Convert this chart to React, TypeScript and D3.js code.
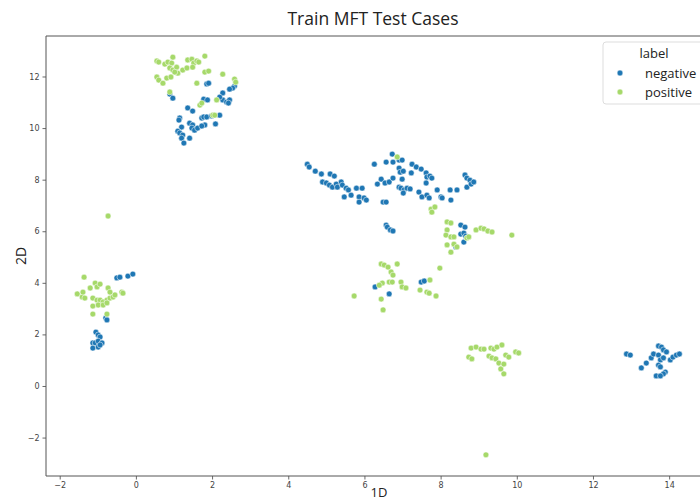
import React, { useRef, useEffect } from "react";
import * as d3 from "d3";

// Points, [1D, 2D]
const negative: [number, number][] = [
  // upper left group
  [0.89, 11.32], [0.97, 11.16], [1.86, 11.71], [1.91, 11.74], [2.59, 11.63], [2.54, 11.55],
  [2.46, 11.51], [2.28, 11.36], [2.28, 11.09], [2.38, 11.01], [2.46, 11.09], [2.43, 10.97],
  [1.78, 11.12], [1.88, 11.09], [1.36, 10.78], [1.49, 10.66], [1.15, 10.39], [1.13, 10.31],
  [1.2, 10.04], [1.1, 9.88], [1.15, 9.81], [1.23, 9.73], [1.2, 9.61], [1.26, 9.42],
  [1.41, 9.61], [1.41, 10.19], [1.49, 10.12], [1.47, 10.0], [1.54, 9.92], [1.62, 10.0],
  [1.73, 10.39], [1.78, 10.43], [1.86, 10.43], [1.81, 10.12], [1.73, 10.08], [1.99, 10.47],
  [2.2, 10.5], [2.09, 10.16], [2.2, 11.2],
  // middle band
  [4.5, 8.6], [4.55, 8.49], [4.71, 8.33], [4.87, 8.22], [5.1, 8.22], [5.21, 8.14],
  [4.9, 7.91], [5.0, 7.87], [5.08, 7.79], [5.16, 7.71], [5.26, 7.83], [5.29, 7.71],
  [5.39, 7.91], [5.42, 7.79], [5.52, 7.67], [5.58, 7.6], [5.47, 7.33], [5.65, 7.4],
  [5.79, 7.67], [5.94, 7.67], [5.86, 7.33], [5.99, 7.29], [5.86, 7.13], [6.05, 7.21],
  [6.26, 8.6], [6.34, 7.83], [6.44, 8.02], [6.54, 7.87], [6.65, 7.91], [6.75, 8.06],
  [6.57, 8.68], [6.73, 8.99], [6.75, 8.68], [6.91, 8.76], [6.99, 8.76], [6.91, 8.45],
  [6.94, 8.29], [7.02, 8.33], [6.99, 8.02], [6.91, 7.71], [6.96, 7.67], [7.04, 7.6],
  [7.02, 7.48], [7.12, 7.67], [7.2, 7.64], [7.23, 8.26], [7.25, 8.6], [7.36, 8.49],
  [7.49, 8.41], [7.62, 8.26], [7.64, 8.1], [7.72, 8.14], [7.77, 8.06], [7.62, 7.87],
  [7.43, 7.52], [7.51, 7.33], [7.64, 7.4], [7.7, 7.29], [7.91, 7.6], [8.01, 7.33],
  [8.04, 7.29], [8.25, 7.6], [8.43, 7.6], [8.27, 7.21], [8.64, 8.18], [8.69, 8.06],
  [8.77, 7.98], [8.69, 7.71], [8.8, 7.83], [8.87, 7.91], [6.49, 7.13], [6.57, 7.13],
  [6.57, 6.24], [6.6, 6.16], [6.68, 6.05], [6.75, 6.01],
  // mixed group near (8.5, 6)
  [8.53, 6.24], [8.64, 6.16], [8.53, 5.89], [8.61, 5.93], [8.66, 5.81], [8.61, 5.58], [8.4, 5.39],
  // lower middle
  [6.28, 3.84], [6.65, 3.57], [7.49, 4.03], [7.57, 4.07],
  // right group
  [12.88, 1.24], [12.98, 1.2], [13.27, 0.7], [13.4, 0.89], [13.53, 1.09], [13.59, 1.24],
  [13.72, 1.55], [13.8, 1.51], [13.85, 1.4], [13.93, 1.32], [13.72, 1.2], [13.77, 1.01],
  [13.85, 1.09], [13.72, 0.81], [13.77, 0.74], [13.9, 0.54], [13.85, 0.47], [13.66, 0.39],
  [13.77, 0.39], [14.03, 1.01], [14.1, 1.12], [14.19, 1.2], [14.27, 1.24],
  // left group
  [-0.5, 4.19], [-0.42, 4.22], [-0.21, 4.26], [-0.08, 4.34], [-0.79, 2.64], [-0.76, 2.56],
  [-1.05, 2.09], [-0.99, 1.98], [-0.94, 1.9], [-1.13, 1.67], [-1.07, 1.67], [-0.99, 1.74],
  [-0.89, 1.67], [-1.13, 1.47], [-0.99, 1.51], [-0.94, 1.59],
];

const positive: [number, number][] = [
  // upper left group
  [0.55, 12.6], [0.6, 12.56], [0.76, 12.48], [0.84, 12.56], [0.97, 12.75], [0.94, 12.52],
  [0.89, 12.33], [0.97, 12.25], [1.07, 12.36], [1.1, 12.13], [1.23, 12.25], [1.34, 12.33],
  [1.36, 12.64], [1.47, 12.67], [1.52, 12.52], [1.6, 12.6], [1.65, 12.56], [1.81, 12.79],
  [1.49, 12.36], [1.81, 12.17], [1.91, 12.21], [0.55, 11.98], [0.6, 11.86], [0.71, 11.74],
  [0.81, 11.94], [0.92, 11.98], [1.02, 12.17], [1.6, 11.74], [2.28, 12.09], [2.59, 11.9],
  [2.62, 11.78], [0.89, 11.4], [1.68, 10.89], [1.73, 10.97], [2.12, 11.09], [2.02, 10.5],
  [2.07, 10.5],
  // middle band
  [6.86, 8.88], [7.75, 6.86], [7.77, 6.74], [7.85, 6.94],
  // mixed group near (8.5, 6)
  [8.17, 6.36], [8.27, 6.32], [8.17, 6.05], [8.14, 5.85], [8.27, 5.78], [8.35, 5.78],
  [8.69, 5.74], [8.74, 5.78], [8.93, 6.05], [9.06, 6.12], [9.14, 6.09], [9.24, 6.01],
  [9.35, 5.97], [9.87, 5.85], [8.17, 5.47], [8.35, 5.5], [8.43, 5.39], [8.27, 5.19],
  // lower middle
  [6.44, 4.73], [6.52, 4.69], [6.62, 4.61], [6.86, 4.73], [6.7, 4.42], [6.75, 4.3],
  [6.47, 3.99], [6.65, 4.03], [6.73, 4.03], [6.96, 4.03], [6.99, 3.84], [7.09, 3.8],
  [6.44, 3.37], [6.49, 2.95], [7.72, 4.11], [7.46, 3.72], [7.64, 3.64], [7.7, 3.6],
  [7.88, 3.49], [7.98, 4.57], [5.73, 3.49], [6.39, 3.91],
  // bottom middle
  [8.8, 1.47], [8.93, 1.51], [9.06, 1.43], [9.14, 1.43], [9.32, 1.47], [9.4, 1.43],
  [9.48, 1.51], [9.61, 1.59], [8.74, 1.12], [8.82, 1.05], [9.27, 1.16], [9.35, 1.09],
  [9.45, 1.05], [9.53, 0.89], [9.66, 0.85], [9.71, 1.2], [9.79, 1.12], [9.97, 1.32],
  [10.05, 1.28], [9.58, 0.66], [9.66, 0.47], [9.19, -2.67],
  // left group
  [-1.36, 4.22], [-1.54, 3.57], [-1.41, 3.45], [-1.34, 3.41], [-1.39, 3.64], [-1.2, 3.8],
  [-1.07, 3.99], [-1.02, 3.84], [-0.94, 3.95], [-1.13, 3.41], [-1.02, 3.33], [-0.94, 3.33],
  [-0.86, 3.26], [-0.76, 3.33], [-0.68, 3.41], [-0.6, 3.45], [-0.55, 3.53], [-0.73, 3.8],
  [-0.68, 3.64], [-0.37, 3.64], [-0.34, 3.6], [-1.13, 3.1], [-0.99, 3.14], [-0.86, 3.14],
  [-0.76, 3.22], [-1.13, 2.79], [-0.76, 2.79], [-0.73, 6.59],
];

const labels = ["negative", "positive"];
const colors = ["#1f77b4", "#a6d96a"];
const xTicks = [-2, 0, 2, 4, 6, 8, 10, 12, 14];
const yTicks = [-2, 0, 2, 4, 6, 8, 10, 12];

const App = () => {
  const svgRef = useRef<SVGSVGElement>(null);

  useEffect(() => {
    const width = 700;
    const height = 503;
    const margin = { top: 36, right: -8, bottom: 27, left: 46 };
    const plotRight = width - margin.right;

    const svg = d3.select(svgRef.current).attr("width", width).attr("height", height);
    svg.selectAll("*").remove();

    const x = d3.scaleLinear().domain([-2.36, 15.02]).range([margin.left, plotRight]);
    const y = d3.scaleLinear().domain([-3.49, 13.57]).range([height - margin.bottom, margin.top]);

    // axes
    const xAxis = svg
      .append("g")
      .attr("transform", `translate(0,${height - margin.bottom})`)
      .call(d3.axisBottom(x).tickValues(xTicks).tickSize(3.5).tickPadding(3).tickFormat(d3.format("d")));
    const yAxis = svg
      .append("g")
      .attr("transform", `translate(${margin.left},0)`)
      .call(d3.axisLeft(y).tickValues(yTicks).tickSize(3.5).tickPadding(3).tickFormat(d3.format("d")));

    [xAxis, yAxis].forEach((g) => {
      g.select(".domain").remove();
      g.selectAll("line").attr("stroke", "#444").attr("stroke-width", 0.8);
      g.selectAll("text")
        .attr("fill", "#444")
        .style("font-family", "DejaVu Sans")
        .style("font-size", "8px");
    });

    // spines
    const spine = svg.append("g").attr("stroke", "#555").attr("stroke-width", 1).attr("fill", "none");
    spine.append("line").attr("x1", margin.left).attr("x2", margin.left).attr("y1", margin.top).attr("y2", height - margin.bottom);
    spine.append("line").attr("x1", margin.left).attr("x2", plotRight).attr("y1", margin.top).attr("y2", margin.top);
    spine.append("line").attr("x1", margin.left).attr("x2", plotRight).attr("y1", height - margin.bottom).attr("y2", height - margin.bottom);

    // points
    [negative, positive].forEach((pts, i) => {
      svg
        .append("g")
        .selectAll("circle")
        .data(pts)
        .join("circle")
        .attr("cx", (d) => x(d[0]))
        .attr("cy", (d) => y(d[1]))
        .attr("r", 2.9)
        .attr("fill", colors[i])
        .attr("stroke", "#fff")
        .attr("stroke-width", 0.5);
    });

    // title and axis labels
    svg
      .append("text")
      .attr("x", 373)
      .attr("y", 25)
      .attr("text-anchor", "middle")
      .style("font-family", "Open Sans")
      .style("font-size", "17.5px")
      .attr("fill", "#222")
      .text("Train MFT Test Cases");
    svg
      .append("text")
      .attr("x", 379)
      .attr("y", 497)
      .attr("text-anchor", "middle")
      .style("font-family", "Open Sans")
      .style("font-size", "13px")
      .attr("fill", "#222")
      .text("1D");
    svg
      .append("text")
      .attr("transform", `translate(26,${(margin.top + height - margin.bottom) / 2}) rotate(-90)`)
      .attr("text-anchor", "middle")
      .style("font-family", "Open Sans")
      .style("font-size", "14px")
      .attr("fill", "#222")
      .text("2D");

    // legend
    const legend = svg.append("g").attr("transform", "translate(603,42)");
    legend
      .append("rect")
      .attr("width", 104)
      .attr("height", 62)
      .attr("rx", 3)
      .attr("fill", "#fff")
      .attr("fill-opacity", 0.8)
      .attr("stroke", "#ddd");
    legend
      .append("text")
      .attr("x", 51)
      .attr("y", 16)
      .attr("text-anchor", "middle")
      .style("font-family", "Open Sans")
      .style("font-size", "13px")
      .attr("fill", "#222")
      .text("label");
    labels.forEach((l, i) => {
      legend
        .append("circle")
        .attr("cx", 17)
        .attr("cy", 31 + i * 19)
        .attr("r", 2.9)
        .attr("fill", colors[i])
        .attr("stroke", "#fff")
        .attr("stroke-width", 0.5);
      legend
        .append("text")
        .attr("x", 42)
        .attr("y", 36 + i * 19)
        .style("font-family", "Open Sans")
        .style("font-size", "13px")
        .attr("fill", "#222")
        .text(l);
    });
  }, []);

  return (
    <div style={{ position: "absolute", left: 0, top: 0 }}>
      <svg ref={svgRef}></svg>
    </div>
  );
};

export default App;
